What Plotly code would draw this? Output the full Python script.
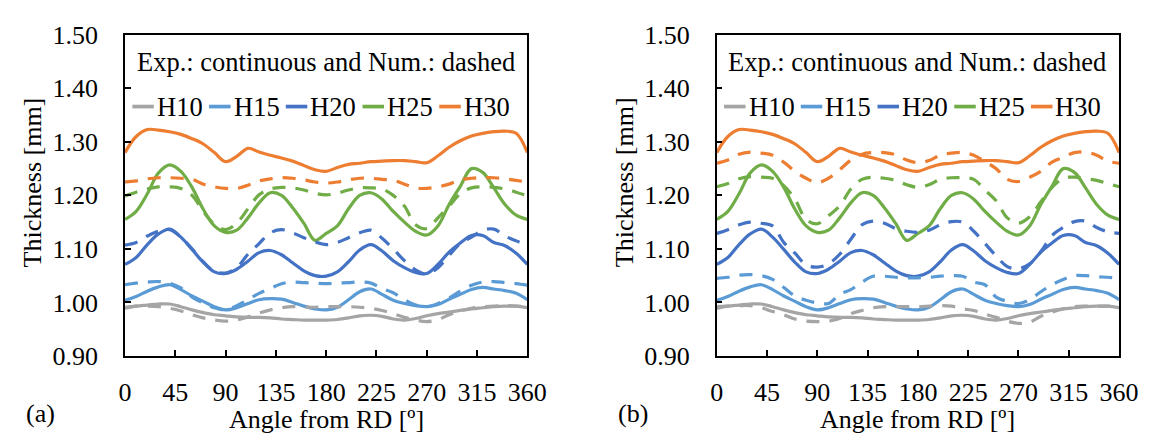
import plotly.graph_objects as go

# ---------------- data ----------------
angles = list(range(0, 361, 10))

series_names = ["H10", "H15", "H20", "H25", "H30"]

# Experimental (continuous) - same in both panels
exp_H10 = [0.989, 0.993, 0.995, 0.997, 0.997, 0.992, 0.986, 0.981, 0.977, 0.975,
           0.973, 0.972, 0.972, 0.971, 0.969, 0.968, 0.967, 0.967, 0.967, 0.968,
           0.971, 0.975, 0.976, 0.974, 0.969, 0.967, 0.970, 0.975, 0.979, 0.982,
           0.985, 0.988, 0.990, 0.992, 0.993, 0.993, 0.990]
exp_H15 = [1.004, 1.011, 1.021, 1.029, 1.033, 1.024, 1.012, 1.002, 0.992, 0.986,
           0.990, 0.998, 1.005, 1.007, 1.006, 1.000, 0.993, 0.988, 0.986, 0.991,
           1.005, 1.020, 1.025, 1.015, 1.004, 0.998, 0.994, 0.992, 0.996, 1.006,
           1.015, 1.024, 1.028, 1.025, 1.022, 1.017, 1.005]
exp_H20 = [1.071, 1.084, 1.108, 1.128, 1.137, 1.122, 1.099, 1.075, 1.057, 1.054,
           1.062, 1.077, 1.093, 1.097, 1.089, 1.074, 1.059, 1.050, 1.049, 1.057,
           1.076, 1.098, 1.108, 1.096, 1.078, 1.065, 1.056, 1.054, 1.071, 1.094,
           1.111, 1.125, 1.125, 1.112, 1.106, 1.092, 1.071]
exp_H25 = [1.155, 1.170, 1.203, 1.242, 1.257, 1.245, 1.215, 1.174, 1.143, 1.131,
           1.135, 1.158, 1.186, 1.205, 1.200, 1.177, 1.148, 1.116, 1.129, 1.143,
           1.175, 1.200, 1.205, 1.193, 1.170, 1.150, 1.133, 1.126, 1.143, 1.183,
           1.217, 1.250, 1.243, 1.214, 1.183, 1.163, 1.155]
exp_H30 = [1.280, 1.310, 1.323, 1.322, 1.319, 1.314, 1.306, 1.296, 1.280, 1.263,
           1.273, 1.288, 1.281, 1.275, 1.270, 1.264, 1.256, 1.248, 1.245, 1.252,
           1.258, 1.260, 1.263, 1.264, 1.265, 1.265, 1.263, 1.261, 1.274, 1.290,
           1.302, 1.311, 1.316, 1.319, 1.320, 1.316, 1.280]

# Numerical (dashed) - panel (a)
num_a_H10 = [0.991, 0.993, 0.993, 0.992, 0.989, 0.984, 0.977, 0.971, 0.967, 0.965,
             0.967, 0.973, 0.980, 0.986, 0.990, 0.992, 0.991, 0.991, 0.992, 0.992,
             0.992, 0.991, 0.989, 0.985, 0.979, 0.972, 0.967, 0.964, 0.968, 0.977,
             0.984, 0.989, 0.992, 0.993, 0.994, 0.993, 0.992]
num_a_H15 = [1.033, 1.036, 1.038, 1.039, 1.036, 1.027, 1.010, 0.999, 0.990, 0.986,
             0.994, 1.005, 1.017, 1.026, 1.035, 1.038, 1.037, 1.036, 1.035, 1.036,
             1.037, 1.038, 1.036, 1.026, 1.018, 1.005, 0.995, 0.992, 0.998, 1.008,
             1.021, 1.032, 1.038, 1.039, 1.037, 1.035, 1.032]
num_a_H20 = [1.107, 1.112, 1.124, 1.133, 1.136, 1.122, 1.100, 1.076, 1.058, 1.055,
             1.065, 1.090, 1.110, 1.130, 1.136, 1.130, 1.121, 1.113, 1.108, 1.112,
             1.121, 1.130, 1.135, 1.120, 1.100, 1.078, 1.061, 1.053, 1.065, 1.088,
             1.110, 1.122, 1.135, 1.137, 1.124, 1.115, 1.107]
num_a_H25 = [1.199, 1.206, 1.212, 1.216, 1.216, 1.213, 1.200, 1.170, 1.146, 1.136,
             1.148, 1.175, 1.201, 1.212, 1.215, 1.214, 1.210, 1.204, 1.201, 1.204,
             1.210, 1.214, 1.214, 1.212, 1.200, 1.180, 1.145, 1.138, 1.158, 1.180,
             1.203, 1.214, 1.216, 1.215, 1.212, 1.206, 1.199]
num_a_H30 = [1.225, 1.227, 1.231, 1.233, 1.233, 1.232, 1.230, 1.221, 1.216, 1.213,
             1.213, 1.219, 1.227, 1.231, 1.233, 1.232, 1.229, 1.225, 1.223, 1.225,
             1.229, 1.232, 1.232, 1.230, 1.228, 1.221, 1.214, 1.213, 1.216, 1.221,
             1.229, 1.232, 1.233, 1.233, 1.231, 1.228, 1.225]

# Numerical (dashed) - panel (b)
num_b_H10 = [0.992, 0.993, 0.994, 0.994, 0.990, 0.983, 0.977, 0.969, 0.965, 0.964,
             0.965, 0.970, 0.979, 0.985, 0.990, 0.992, 0.992, 0.992, 0.992, 0.993,
             0.994, 0.993, 0.988, 0.985, 0.978, 0.972, 0.965, 0.961, 0.963, 0.974,
             0.982, 0.988, 0.992, 0.993, 0.993, 0.993, 0.992]
num_b_H15 = [1.045, 1.047, 1.051, 1.052, 1.050, 1.043, 1.028, 1.012, 1.004, 0.999,
             0.998, 1.015, 1.024, 1.038, 1.049, 1.049, 1.047, 1.046, 1.046, 1.047,
             1.049, 1.050, 1.049, 1.038, 1.033, 1.010, 1.002, 0.998, 1.005, 1.020,
             1.033, 1.043, 1.050, 1.050, 1.048, 1.047, 1.045]
num_b_H20 = [1.129, 1.136, 1.145, 1.150, 1.148, 1.143, 1.112, 1.092, 1.070, 1.066,
             1.072, 1.090, 1.118, 1.145, 1.152, 1.148, 1.138, 1.133, 1.131, 1.135,
             1.145, 1.151, 1.150, 1.133, 1.110, 1.087, 1.067, 1.063, 1.072, 1.095,
             1.125, 1.140, 1.151, 1.152, 1.140, 1.132, 1.129]
num_b_H25 = [1.216, 1.222, 1.231, 1.235, 1.234, 1.232, 1.218, 1.193, 1.155, 1.147,
             1.162, 1.180, 1.212, 1.230, 1.234, 1.232, 1.228, 1.220, 1.215, 1.220,
             1.230, 1.233, 1.233, 1.230, 1.210, 1.190, 1.158, 1.148, 1.160, 1.188,
             1.215, 1.232, 1.234, 1.231, 1.228, 1.222, 1.216]
num_b_H30 = [1.260, 1.266, 1.277, 1.281, 1.279, 1.275, 1.262, 1.245, 1.232, 1.224,
             1.232, 1.248, 1.266, 1.277, 1.280, 1.280, 1.276, 1.266, 1.261, 1.265,
             1.275, 1.279, 1.280, 1.275, 1.263, 1.250, 1.230, 1.226, 1.234, 1.245,
             1.262, 1.271, 1.280, 1.281, 1.275, 1.264, 1.260]

x_ticks = [0, 45, 90, 135, 180, 225, 270, 315, 360]
y_ticks = [0.90, 1.00, 1.10, 1.20, 1.30, 1.40, 1.50]

colors = {"H10": "#A5A5A5", "H15": "#5B9BD5", "H20": "#4472C4",
          "H25": "#70AD47", "H30": "#ED7D31"}

exp_data = dict(zip(series_names, [exp_H10, exp_H15, exp_H20, exp_H25, exp_H30]))
num_a = dict(zip(series_names, [num_a_H10, num_a_H15, num_a_H20, num_a_H25, num_a_H30]))
num_b = dict(zip(series_names, [num_b_H10, num_b_H15, num_b_H20, num_b_H25, num_b_H30]))

# ---------------- figure ----------------
W, H = 1159, 446
FONT = "Liberation Serif"
FS = 26
LW = 3.2


def fx(p):
    return p / W


def fy(p):
    return 1 - p / H


panels = [
    dict(xa="x", ya="y", left=120.7, num=num_a, tag="(a)"),
    dict(xa="x2", ya="y2", left=726.0, num=num_b, tag="(b)"),
]
PW = 411.6
TOP, BOT = 22.3, 365.7

fig = go.Figure()
for p in panels:
    for name in series_names:
        fig.add_trace(go.Scatter(
            x=angles, y=exp_data[name], xaxis=p["xa"], yaxis=p["ya"], mode="lines",
            line=dict(color=colors[name], width=LW, shape="spline"),
            showlegend=False, name=name))
    for name in series_names:
        fig.add_trace(go.Scatter(
            x=angles, y=p["num"][name], xaxis=p["xa"], yaxis=p["ya"], mode="lines",
            line=dict(color=colors[name], width=LW, dash="13px,10px", shape="spline"),
            showlegend=False, name=name + " num"))

axis_common = dict(showline=True, linecolor="black", linewidth=1.5, mirror=True,
                   ticks="inside", ticklen=6, tickwidth=1.5, tickcolor="black",
                   showgrid=False, zeroline=False,
                   tickfont=dict(family=FONT, size=FS, color="black"))

layout = dict(width=W, height=H, margin=dict(l=0, r=0, t=0, b=0),
              paper_bgcolor="white", plot_bgcolor="white", showlegend=False,
              font=dict(family=FONT, size=FS, color="black"))

annotations = []
shapes = []
for i, p in enumerate(panels):
    sfx = "" if i == 0 else "2"
    L = p["left"]
    layout["xaxis" + sfx] = dict(axis_common, domain=[fx(L), fx(L + PW)], range=[0, 360],
                                 tickvals=x_ticks, ticklabelstandoff=12,
                                 anchor="y" + sfx)
    layout["yaxis" + sfx] = dict(axis_common, domain=[fy(BOT), fy(TOP)], range=[0.9, 1.5],
                                 tickvals=y_ticks, tickformat=".2f", ticklabelstandoff=20,
                                 anchor="x" + sfx)
    # axis titles
    annotations.append(dict(x=fx(L - 95), y=fy(180), xref="paper", yref="paper",
                            text="Thickness [mm]", textangle=-90, showarrow=False,
                            xanchor="center", yanchor="middle",
                            font=dict(family=FONT, size=FS, color="black")))
    annotations.append(dict(x=fx(L + PW / 2), y=fy(434), xref="paper", yref="paper",
                            text="Angle from RD [º]", showarrow=False,
                            xanchor="center", yanchor="middle",
                            font=dict(family=FONT, size=FS, color="black")))
    annotations.append(dict(x=fx(L - 86), y=fy(427), xref="paper", yref="paper",
                            text=p["tag"], showarrow=False,
                            xanchor="center", yanchor="middle",
                            font=dict(family=FONT, size=FS, color="black")))
    # note
    annotations.append(dict(x=fx(L + 10), y=fy(51), xref="paper", yref="paper",
                            text="Exp.: continuous and Num.: dashed", showarrow=False,
                            xanchor="left", yanchor="middle",
                            font=dict(family=FONT, size=26.5, color="black")))
    # manual legend
    for k, name in enumerate(series_names):
        x0 = L + 7.5 + 78.5 * k
        shapes.append(dict(type="line", xref="paper", yref="paper",
                           x0=fx(x0), x1=fx(x0 + 22), y0=fy(99), y1=fy(99),
                           line=dict(color=colors[name], width=LW + 0.5)))
        annotations.append(dict(x=fx(x0 + 23), y=fy(99), xref="paper", yref="paper",
                                text=name, showarrow=False, xanchor="left",
                                yanchor="middle",
                                font=dict(family=FONT, size=26.5, color="black")))

layout["annotations"] = annotations
layout["shapes"] = shapes
fig.update_layout(**layout)

fig.write_html("out.html", config={"displayModeBar": False},
               post_script="document.body.style.margin='0';document.body.style.padding='0';")
